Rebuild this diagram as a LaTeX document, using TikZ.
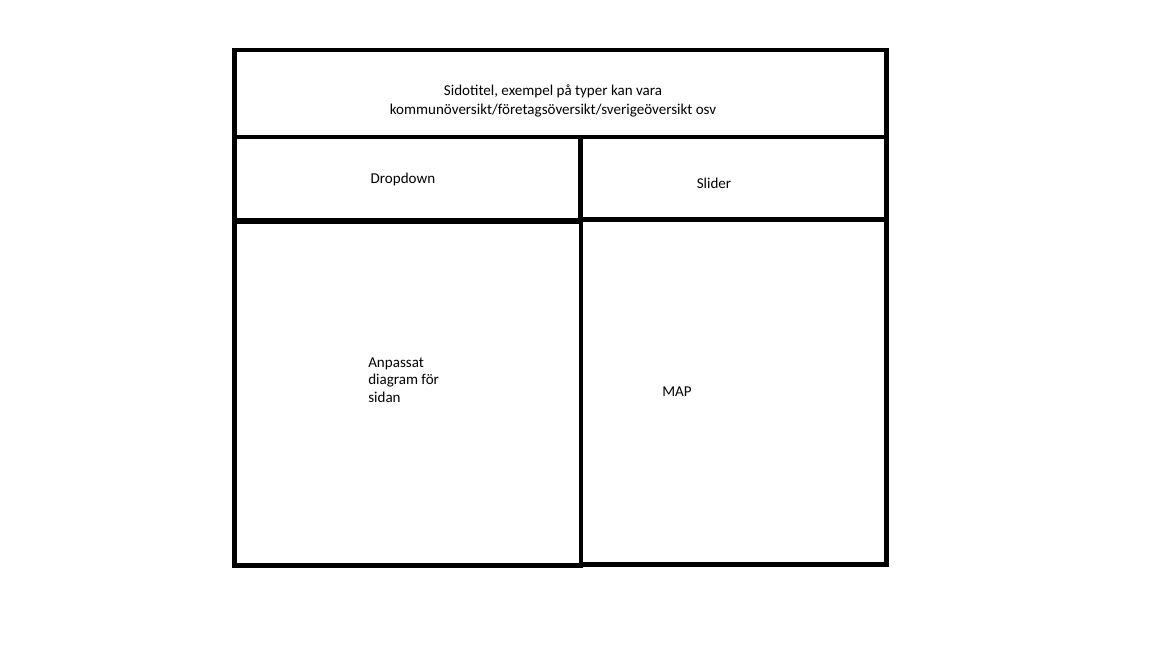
\documentclass[tikz,border=0pt]{standalone}
\usepackage{fontspec}
\setmainfont{Carlito}
\usetikzlibrary{positioning}

\begin{document}
\begin{tikzpicture}[
  x=0.025cm, y=-0.025cm,
  every node/.style={font=\fontsize{10.7}{12.6}\selectfont},
  panel/.style={draw=black, line width=3.5pt, inner sep=0pt, minimum width=#1},
  lbl/.style={align=center, inner sep=0pt}
]
  \useasboundingbox (0,0) rectangle (1152,648);

  % panels of the page layout
  \node[panel=16.29cm, minimum height=2.175cm] (title)    at (560.25,93.5)  {};
  \node[panel=8.64cm,  minimum height=2.075cm] (dropdown) at (407.25,178.5) {};
  \node[panel=7.65cm,  minimum height=2.075cm] (slider)   at (733,178.5)    {};
  \node[panel=8.66cm,  minimum height=8.575cm] (chart)    at (407.75,393.5) {};
  \node[panel=7.625cm, minimum height=8.6cm]   (map)      at (733.5,392)    {};

  % texts
  \node[lbl, font=\fontsize{10.7}{13.2}\selectfont] (titletext) at (553,101)
    {Sidotitel, exempel på typer kan vara\\kommunöversikt/företagsöversikt/sverigeöversikt osv};
  \node[lbl] (droptext)   at (403,179) {Dropdown};
  \node[lbl] (slidertext) at (714,183) {Slider};
  \node[lbl, align=left, anchor=west] (charttext) at (368,380)
    {Anpassat\\diagram för\\sidan};
  \node[lbl] (maptext) at (677,392) {MAP};
\end{tikzpicture}
\end{document}
